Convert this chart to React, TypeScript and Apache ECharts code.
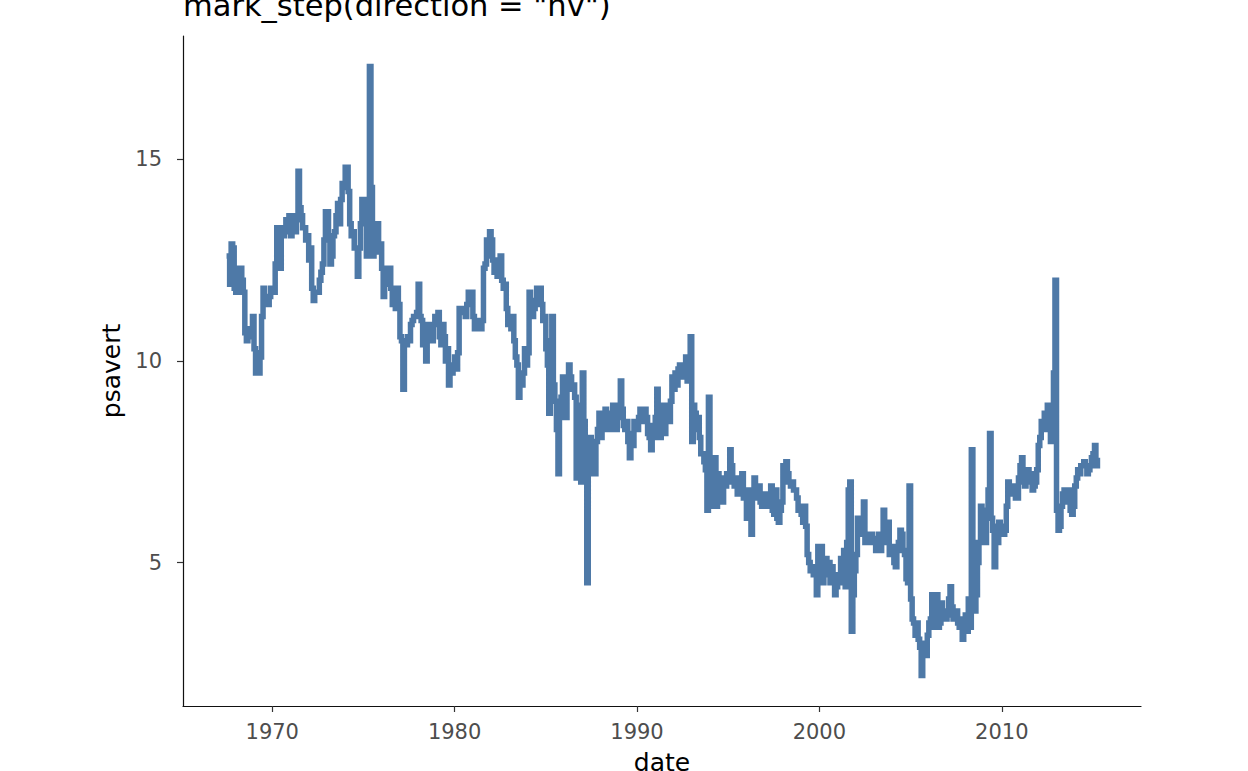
import { useEffect, useRef } from 'react';
import * as echarts from 'echarts';

// monthly personal savings rate, first value is July 1967
const START_YEAR = 1967;
const START_MONTH = 6; // 0-based -> July

const psavert1960s = [
  12.6, 12.6, 11.9, 12.9, 12.8, 11.8,
  11.7, 12.3, 11.7, 12.3, 12.0, 11.7, 10.7, 10.5, 10.6, 10.8, 10.6, 11.1,
  10.3, 9.7, 10.2, 9.7, 10.1, 11.1, 11.8, 11.5, 11.6, 11.4, 11.6, 11.8,
];

const psavert1970s = [
  11.8, 11.7, 12.4, 13.3, 12.4, 12.3, 13.3, 13.1, 13.3, 13.5, 13.2, 13.6,
  13.1, 13.6, 13.4, 13.2, 13.5, 14.7, 13.8, 13.6, 13.3, 13.3, 13.0, 13.1,
  12.5, 12.8, 11.8, 11.5, 11.7, 11.7, 11.7, 12.0, 12.2, 12.4, 13.0, 13.7,
  13.7, 13.0, 12.4, 12.6, 13.1, 13.2, 13.6, 13.9, 13.4, 14.0, 14.4, 14.3,
  14.8, 14.8, 14.2, 13.4, 13.1, 13.2, 12.8, 12.8, 12.1, 12.8, 13.4, 14.0,
  13.4, 14.0, 12.6, 13.0, 17.3, 14.3, 12.6, 13.4, 12.7, 13.4, 12.8, 12.9,
  12.3, 11.6, 12.3, 11.9, 11.9, 12.3, 11.8, 11.4, 11.4, 11.3, 11.8, 11.4,
  10.6, 10.5, 9.3, 10.5, 10.4, 10.6, 10.5, 10.9, 11.0, 11.1, 11.1, 11.2,
  11.9, 11.1, 11.0, 10.4, 10.8, 10.0, 10.9, 10.7, 10.6, 10.5, 10.9, 11.1,
  11.1, 11.2, 10.6, 10.4, 10.9, 10.6, 10.0, 10.3, 9.4, 9.8, 9.7, 9.9,
];

const psavert1980s = [
  10.1, 9.8, 10.2, 11.3, 11.3, 11.2, 11.3, 11.1, 11.4, 11.7, 11.4, 11.7,
  11.1, 10.8, 10.9, 11.0, 10.8, 10.8, 11.0, 12.3, 12.4, 13.0, 12.6, 13.2,
  13.0, 12.5, 12.2, 12.5, 12.1, 12.3, 12.6, 12.0, 11.8, 11.9, 11.3, 10.9,
  11.1, 10.8, 11.1, 10.5, 10.1, 9.9, 9.1, 9.6, 9.4, 9.7, 10.3, 9.9,
  10.2, 11.7, 11.5, 11.1, 11.3, 11.4, 11.8, 11.6, 11.8, 11.4, 11.0, 11.1,
  10.3, 9.9, 8.7, 10.5, 11.1, 9.4, 9.0, 8.3, 7.2, 8.6, 9.1, 9.6,
  9.0, 8.6, 9.3, 9.9, 9.6, 9.3, 9.4, 9.1, 7.1, 8.9, 8.4, 7.0,
  9.7, 8.5, 8.0, 4.5, 7.2, 8.1, 7.3, 7.7, 7.2, 8.0, 8.3, 8.7,
  8.1, 8.6, 8.3, 8.8, 8.4, 8.7, 8.3, 8.5, 8.9, 8.4, 8.3, 8.6,
  8.9, 9.5, 8.8, 8.4, 8.3, 8.5, 8.0, 7.6, 8.2, 7.9, 8.5, 8.4,
];

const psavert1990s = [
  8.3, 8.6, 8.8, 8.7, 8.5, 8.8, 8.6, 8.2, 8.1, 7.8, 8.4, 8.1,
  8.6, 9.3, 8.5, 8.1, 8.9, 8.4, 8.2, 8.9, 8.7, 8.5, 9.0, 9.6,
  9.3, 9.7, 9.4, 9.8, 9.9, 9.6, 9.7, 9.8, 10.1, 9.5, 9.7, 10.6,
  8.0, 8.9, 8.7, 8.3, 8.6, 8.1, 7.7, 7.7, 7.5, 7.3, 6.3, 9.1,
  6.4, 7.3, 6.6, 7.6, 6.4, 7.2, 6.6, 6.9, 6.5, 7.1, 6.9, 7.2,
  7.0, 7.8, 7.4, 7.1, 6.9, 7.0, 6.7, 7.1, 6.7, 7.2, 6.6, 6.8,
  6.1, 6.8, 6.3, 5.7, 6.6, 7.1, 6.6, 6.7, 6.9, 6.5, 6.4, 6.6,
  6.7, 6.4, 6.7, 6.5, 6.9, 6.3, 6.2, 6.8, 6.1, 6.0, 6.3, 6.5,
  7.4, 7.0, 7.5, 7.2, 7.0, 6.9, 7.0, 6.8, 6.8, 6.6, 6.3, 6.4,
  6.2, 6.0, 6.4, 5.9, 5.2, 5.0, 4.8, 4.9, 4.7, 4.8, 4.2, 5.4,
];

const psavert2000s = [
  4.6, 5.4, 4.5, 4.9, 5.1, 4.7, 5.0, 4.5, 4.9, 4.6, 4.2, 4.4,
  4.7, 4.5, 5.1, 4.5, 5.3, 4.4, 5.5, 6.8, 7.0, 3.3, 4.2, 4.8,
  5.2, 6.1, 5.7, 6.0, 5.9, 6.5, 5.5, 5.6, 5.7, 5.5, 5.7, 5.6,
  5.5, 5.3, 5.6, 5.7, 5.3, 5.6, 6.3, 5.5, 5.9, 6.0, 5.2, 5.4,
  5.4, 5.0, 4.9, 5.3, 5.5, 5.8, 5.7, 5.3, 5.2, 4.6, 4.5, 6.9,
  4.1, 3.6, 3.5, 3.2, 3.5, 3.1, 2.9, 2.2, 2.9, 3.0, 2.7, 3.2,
  3.5, 3.6, 4.2, 3.4, 3.9, 4.2, 3.4, 3.5, 4.0, 3.7, 3.8, 3.6,
  3.7, 4.1, 4.4, 3.9, 3.6, 3.7, 3.8, 3.5, 3.4, 3.6, 3.1, 3.6,
  3.7, 3.3, 4.1, 3.4, 7.8, 5.5, 3.8, 4.2, 5.0, 5.5, 6.4, 5.9,
  6.2, 5.5, 6.3, 6.8, 8.2, 6.1, 5.8, 4.9, 5.9, 5.5, 6.0, 5.8,
];

const psavert2010s = [
  5.9, 5.7, 5.8, 6.4, 7.0, 6.9, 6.7, 6.9, 6.7, 6.6, 6.6, 7.1,
  7.4, 7.6, 7.0, 6.9, 7.1, 7.3, 7.0, 7.2, 6.8, 6.9, 7.0, 7.3,
  7.9, 8.1, 8.5, 8.4, 8.7, 8.3, 8.9, 8.6, 8.0, 8.2, 9.7, 12.0,
  6.3, 5.8, 5.9, 6.4, 6.7, 6.8, 6.5, 6.6, 6.8, 6.3, 6.2, 6.4,
  6.9, 7.1, 7.3, 7.2, 7.4, 7.4, 7.5, 7.4, 7.2, 7.3, 7.4, 7.6,
  7.7, 7.9, 7.4, 7.6,
];

const xTickYears = [1970, 1980, 1990, 2000, 2010];
const yTicks = [5, 10, 15];

const TITLE = 'mark_step(direction = "hv")';
const FONT = '"DejaVu Sans", sans-serif';

const psavert = [
  ...psavert1960s,
  ...psavert1970s,
  ...psavert1980s,
  ...psavert1990s,
  ...psavert2000s,
  ...psavert2010s,
];
// dates as epoch ms on a plain value axis (custom tick values break the time axis)
const points = psavert.map((v, i) => [Date.UTC(START_YEAR, START_MONTH + i, 1), v]);
const xTickValues = xTickYears.map((y) => Date.UTC(y, 0, 1));

// ggplot style 5% expansion on both sides
const expandMin = (e: { min: number; max: number }) => e.min - 0.05 * (e.max - e.min);
const expandMax = (e: { min: number; max: number }) => e.max + 0.05 * (e.max - e.min);

export default function App() {
  const ref = useRef<HTMLDivElement>(null);

  useEffect(() => {
    document.body.style.margin = '0';
    if (!ref.current) return;
    const chart = echarts.init(ref.current, undefined, { renderer: 'svg' });

    chart.setOption({
      animation: false,
      backgroundColor: '#fff',
      textStyle: { fontFamily: FONT },
      title: {
        text: TITLE,
        left: 183,
        top: -10,
        padding: 0,
        textStyle: { fontSize: 30.5, fontWeight: 'normal', color: '#000', fontFamily: FONT },
      },
      grid: { left: 183, right: 107, top: 36, bottom: 65, outerBoundsMode: 'none' },
      xAxis: {
        type: 'value',
        min: expandMin,
        max: expandMax,
        scale: true,
        name: 'date',
        nameLocation: 'middle',
        nameGap: 44,
        nameTextStyle: { fontSize: 25, color: '#000', fontFamily: FONT },
        axisLine: { show: true, onZero: false, lineStyle: { color: '#111', width: 1.2 } },
        axisTick: { show: true, length: 6, customValues: xTickValues, lineStyle: { color: '#333', width: 1.2 } },
        axisLabel: {
          customValues: xTickValues,
          formatter: (v: number) => String(new Date(v).getUTCFullYear()),
          fontSize: 21,
          color: '#4d4d4d',
          margin: 15,
          fontFamily: FONT,
        },
        splitLine: { show: false },
      },
      yAxis: {
        type: 'value',
        min: expandMin,
        max: expandMax,
        name: 'psavert',
        nameLocation: 'middle',
        nameGap: 52,
        nameRotate: 90,
        nameTextStyle: { fontSize: 25, color: '#000', fontFamily: FONT },
        axisLine: { show: true, onZero: false, lineStyle: { color: '#111', width: 1.2 } },
        axisTick: { show: true, length: 6, customValues: yTicks, lineStyle: { color: '#333', width: 1.2 } },
        axisLabel: {
          customValues: yTicks,
          fontSize: 21,
          color: '#4d4d4d',
          margin: 21,
          fontFamily: FONT,
        },
        splitLine: { show: false },
      },
      series: [
        {
          type: 'line',
          step: 'end',
          data: points,
          showSymbol: false,
          lineStyle: { color: '#4E79A7', width: 5.5, join: 'miter' },
          itemStyle: { color: '#4E79A7' },
        },
      ],
    });

    return () => chart.dispose();
  }, []);

  return <div ref={ref} style={{ width: 1248, height: 771 }} />;
}
